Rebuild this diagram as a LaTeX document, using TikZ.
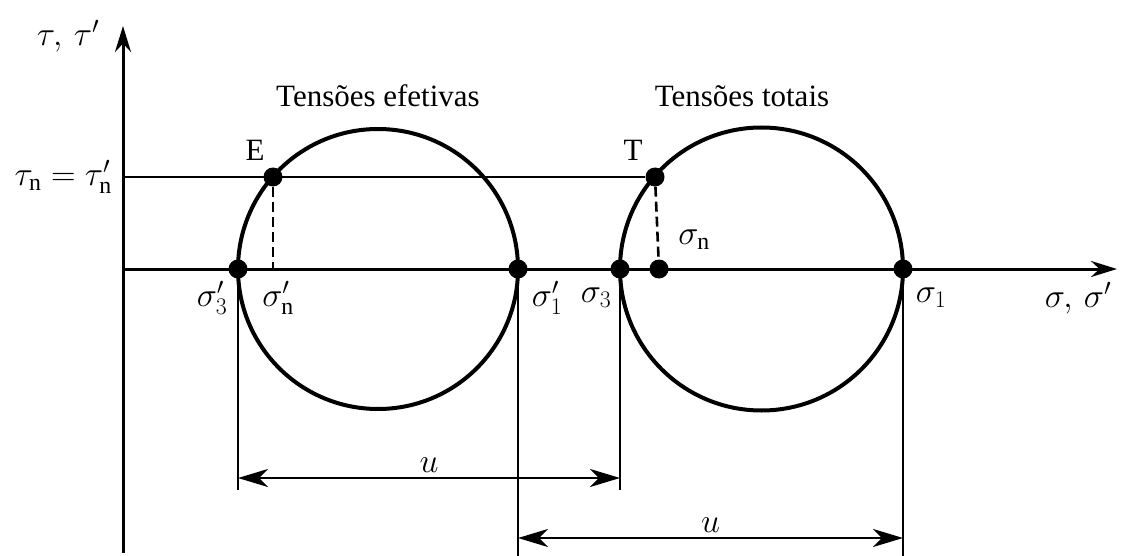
\RequirePackage{fix-cm}
\documentclass[tikz,border=0pt]{standalone}
\usepackage{fontspec}
\setmainfont{Liberation Serif}
\usetikzlibrary{arrows.meta, positioning}

\begin{document}
\begin{tikzpicture}[x=1pt, y=-1pt,
  axis/.style={line width=3pt, -{Stealth[length=26pt, width=16pt]}},
  mohr/.style={line width=4pt},
  dot/.style={circle, fill, inner sep=0pt, minimum size=19pt},
  guide/.style={line width=2.6pt},
  dim/.style={line width=2.6pt, {Stealth[length=30pt, width=18pt, inset=9pt]}-{Stealth[length=30pt, width=18pt, inset=9pt]}},
  lbl/.style={font=\fontsize{31}{34}\selectfont, inner sep=2pt},
  sym/.style={font=\fontsize{34}{38}\selectfont, inner sep=2pt},
]
\useasboundingbox (0,0) rectangle (1121,556);

% eixos
\coordinate (o) at (123,269);
\coordinate (ytop) at (123,26);
\coordinate (ybot) at (123,553);
\coordinate (xend) at (1117,269);
\draw[axis] (ybot) -- (ytop);
\draw[axis] (o) -- (xend);
\node[sym] (tauax) at (68,36) {$\tau,\,\tau'$};
\node[sym] (sigax) at (1078,298) {$\sigma,\,\sigma'$};

% circulos de Mohr
\draw[mohr] (378,269) circle[radius=140];
\draw[mohr] (761.5,269) circle[radius=141.5];
\node[lbl] (efet) at (378,96) {Tensões efetivas};
\node[lbl] (tot) at (742,96) {Tensões totais};

% pontos
\node[dot] (s3e) at (238,269) {};
\node[dot] (s1e) at (518,269) {};
\node[dot] (s3) at (620,269) {};
\node[dot] (sn) at (659,269) {};
\node[dot] (s1) at (903,269) {};
\node[dot] (E) at (273,177) {};
\node[dot] (T) at (655,177) {};
\coordinate (sne) at (273,269);

\node[lbl] (Elbl) at (255,150) {E};
\node[lbl] (Tlbl) at (633,150) {T};

\draw[guide] (o |- E) -- (T);
\node[sym, left] (taun) at (114,177) {$\tau_{\mathrm{n}}=\tau'_{\mathrm{n}}$};
\draw[guide, dash pattern=on 10pt off 5pt] (E) -- (sne);
\draw[guide, dash pattern=on 10pt off 5pt] (T) -- (sn);

\node[sym] (s3elbl) at (212,298) {$\sigma'_3$};
\node[sym] (snelbl) at (278,298) {$\sigma'_{\mathrm{n}}$};
\node[sym] (s1elbl) at (547,298) {$\sigma'_1$};
\node[sym] (s3lbl) at (596,298) {$\sigma_3$};
\node[sym] (snlbl) at (694,240) {$\sigma_{\mathrm{n}}$};
\node[sym] (s1lbl) at (931,298) {$\sigma_1$};

% cotas da pressao neutra
\coordinate (a1) at (238,490);
\coordinate (b1) at (620,490);
\coordinate (a2) at (518,556);
\coordinate (b2) at (903,556);
\draw[guide] (s3e) -- (a1);
\draw[guide] (s3) -- (b1);
\draw[guide] (s1e) -- (a2);
\draw[guide] (s1) -- (b2);
\coordinate (u1l) at (238,478);
\coordinate (u1r) at (620,478);
\coordinate (u2l) at (518,538);
\coordinate (u2r) at (903,538);
\draw[dim] (u1l) -- node[sym, above=2pt] (u1) {$u$} (u1r);
\draw[dim] (u2l) -- node[sym, above=2pt] (u2) {$u$} (u2r);
\end{tikzpicture}
\end{document}
